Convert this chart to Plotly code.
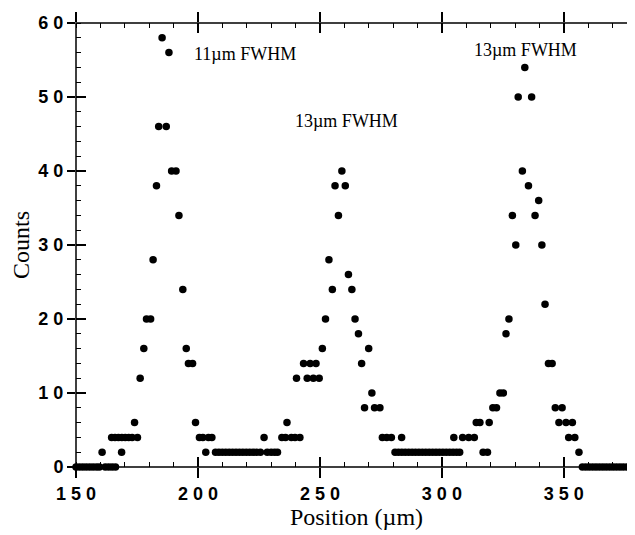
import plotly.graph_objects as go

# ---- data ----
position_um = [
    150.0, 151.4, 152.8, 154.2, 155.6, 157.0, 158.4, 159.6, 160.7, 162.0, 163.4, 164.6, 164.8, 166.0, 166.2,
    167.4, 168.7, 168.8, 170.2, 171.6, 173.0, 174.0, 175.2, 176.3, 177.8, 178.9, 180.6, 181.6, 183.0, 183.9,
    185.3, 187.0, 188.1, 189.2, 191.0, 192.2, 193.8, 195.2, 196.1, 197.8, 199.0, 200.6, 202.0, 203.2, 204.3,
    205.7,
    207.2, 208.6, 210.0, 211.4, 212.8, 214.2, 215.6, 217.0, 218.4, 219.8, 221.2, 222.6, 224.0, 225.6, 228.4,
    230.0, 231.4, 232.6,
    227.1, 234.4, 235.9, 236.5, 238.3, 239.8, 240.4, 241.8, 243.3, 244.8, 246.0, 247.3, 248.4, 249.7, 251.0,
    252.3, 253.7, 255.1, 256.2, 257.6, 259.0, 260.4, 261.7, 263.1, 264.4, 265.8, 267.1, 268.3, 270.0, 271.3,
    272.4, 274.6, 275.6, 277.4, 279.3, 283.5,
    280.8, 282.2, 283.6, 285.0, 286.4, 287.8, 289.2, 290.6, 292.0, 293.4, 294.8, 296.2, 297.6, 299.0, 300.4,
    301.8, 303.2, 304.6, 306.0, 307.3,
    304.9, 308.5, 311.0, 313.3, 314.1, 315.6, 316.9, 318.7, 319.4, 320.9, 322.4, 323.8, 325.2, 326.3, 327.5,
    328.9, 330.3, 331.3, 333.0, 334.0, 335.5, 336.8, 338.2, 339.7, 341.0, 342.3, 343.7, 345.2, 346.5, 348.0,
    349.3, 350.9, 352.0, 353.5, 354.5, 356.2,
    357.6, 359.0, 360.4, 361.8, 363.2, 364.6, 366.0, 367.4, 368.8, 370.2, 371.6, 373.0, 374.4, 375.8, 377.2,
    378.6, 380.0,
]
counts = [
    0, 0, 0, 0, 0, 0, 0, 0, 2, 0, 0, 4, 0, 4, 0,
    4, 2, 4, 4, 4, 4, 6, 4, 12, 16, 20, 20, 28, 38, 46,
    58, 46, 56, 40, 40, 34, 24, 16, 14, 14, 6, 4, 4, 2, 4,
    4,
    2, 2, 2, 2, 2, 2, 2, 2, 2, 2, 2, 2, 2, 2, 2,
    2, 2, 2,
    4, 4, 4, 6, 4, 4, 12, 4, 14, 12, 14, 12, 14, 12, 16,
    20, 28, 24, 38, 34, 40, 38, 26, 24, 20, 18, 14, 8, 16, 10,
    8, 8, 4, 4, 4, 4,
    2, 2, 2, 2, 2, 2, 2, 2, 2, 2, 2, 2, 2, 2, 2,
    2, 2, 2, 2, 2,
    4, 4, 4, 4, 6, 6, 2, 2, 6, 8, 8, 10, 10, 18, 20,
    34, 30, 50, 40, 54, 38, 50, 34, 36, 30, 22, 14, 14, 8, 6,
    8, 6, 4, 6, 4, 2,
    0, 0, 0, 0, 0, 0, 0, 0, 0, 0, 0, 0, 0, 0, 0,
    0, 0,
]

x_tickvals = [150, 200, 250, 300, 350]
x_ticktext = ["1 5 0", "2 0 0", "2 5 0", "3 0 0", "3 5 0"]
y_tickvals = [0, 10, 20, 30, 40, 50, 60]
y_ticktext = ["0", "1 0", "2 0", "3 0", "4 0", "5 0", "6 0"]

fwhm_labels = ["11\u00b5m FWHM", "13\u00b5m FWHM", "13\u00b5m FWHM"]
fwhm_x = [219.4, 260.8, 334.1]
fwhm_y = [55.8, 46.7, 56.4]

x_range = [150, 380]
y_range = [0, 60]

SANS = "Liberation Sans, Arial, sans-serif"
SERIF = "Liberation Serif, Times New Roman, serif"

fig = go.Figure()
fig.add_trace(go.Scatter(
    x=position_um, y=counts, mode="markers",
    marker=dict(color="black", size=7.5, line=dict(width=0)),
    cliponaxis=False, showlegend=False, hoverinfo="x+y",
))
# empty traces that bind the extra tick-only axes (crossing ticks on all four sides)
for k in (2, 3, 4):
    fig.add_trace(go.Scatter(x=[], y=[], xaxis=f"x{k}", yaxis=f"y{k}", showlegend=False))

for txt, xx, yy in zip(fwhm_labels, fwhm_x, fwhm_y):
    fig.add_annotation(x=xx, y=yy, text=txt, showarrow=False,
                       font=dict(family=SERIF, size=18, color="black"))

# plot frame
fig.add_shape(type="rect", xref="paper", yref="paper", x0=0, x1=1, y0=0, y1=1,
              line=dict(color="black", width=1.5), fillcolor="rgba(0,0,0,0)", layer="above")

common = dict(showgrid=False, zeroline=False, showline=False, mirror=False,
              tickcolor="black", tickwidth=1.5, automargin=False)
xminor = dict(ticks="inside", ticklen=5, tickmode="linear", tick0=150, dtick=10,
              tickcolor="black", tickwidth=1)
yminor = dict(ticks="inside", ticklen=5, tickmode="linear", tick0=0, dtick=2,
              tickcolor="black", tickwidth=1)
xt = dict(range=x_range, tickmode="array", tickvals=x_tickvals)
yt = dict(range=y_range, tickmode="array", tickvals=y_tickvals)

fig.update_layout(
    width=635, height=535,
    margin=dict(l=68, r=6, t=15, b=76),
    paper_bgcolor="white", plot_bgcolor="white",
    xaxis=dict(
        **xt, side="bottom", ticks="outside", ticklen=10, ticktext=x_ticktext,
        tickfont=dict(family=SANS, size=18, color="black", weight="bold"), ticklabeloverflow="allow",
        minor=xminor,
        title=dict(text="Position (\u00b5m)", font=dict(family=SERIF, size=24, color="black"), standoff=2),
        **common,
    ),
    yaxis=dict(
        **yt, side="left", ticks="outside", ticklen=8, ticktext=y_ticktext,
        tickfont=dict(family=SANS, size=18, color="black", weight="bold"), ticklabeloverflow="allow",
        minor=yminor,
        title=dict(text="Counts", font=dict(family=SERIF, size=24, color="black"), standoff=4),
        **common,
    ),
    xaxis2=dict(**xt, overlaying="x", anchor="y", side="bottom", ticks="inside", ticklen=10,
                showticklabels=False, **common),
    yaxis2=dict(**yt, overlaying="y", anchor="x", side="left", ticks="inside", ticklen=10,
                showticklabels=False, **common),
    xaxis3=dict(**xt, overlaying="x", anchor="y", side="top", ticks="outside", ticklen=10,
                showticklabels=False, minor=xminor, **common),
    yaxis3=dict(**yt, overlaying="y", anchor="x", side="right", ticks="outside", ticklen=8,
                showticklabels=False, minor=yminor, **common),
    xaxis4=dict(**xt, overlaying="x", anchor="y", side="top", ticks="inside", ticklen=10,
                showticklabels=False, **common),
    yaxis4=dict(**yt, overlaying="y", anchor="x", side="right", ticks="inside", ticklen=10,
                showticklabels=False, **common),
)

fig.write_html("out.html")
